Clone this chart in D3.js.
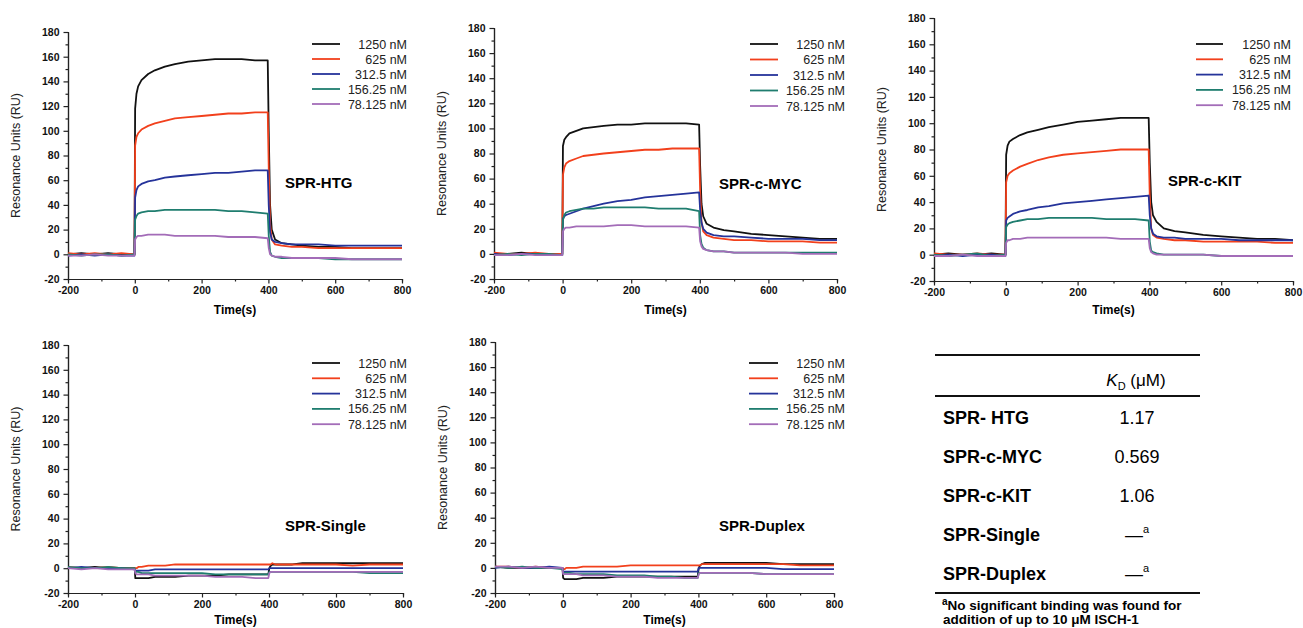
<!DOCTYPE html>
<html lang="en">
  <head>
    <meta charset="utf-8">
    <script src="https://d3js.org/d3.v7.min.js"></script>
    <title>SPR sensorgrams</title>
    <style>
      body {
        margin: 0;
        background-color: #ffffff;
        font-family: "Liberation Sans", Arial, sans-serif;
      }
      .axis path, .axis line {
        stroke: #222;
        stroke-width: 1.2;
      }
      .axis text {
        font-size: 10.5px;
        font-weight: bold;
        fill: #111;
        font-family: "Liberation Sans", Arial, sans-serif;
      }
      .curve {
        fill: none;
        stroke-width: 1.8;
        stroke-linejoin: round;
      }
    </style>
  </head>
  <body>
    <div class="chartHolder"></div>
    <script>
      // time points (s) shared by every sensorgram
      const times = [-200, -160, -120, -80, -40, -1,
        1, 5, 10, 20, 40, 60, 90, 120, 160, 200, 240, 280, 320, 360, 398,
        401, 405, 410, 420, 440, 470, 500, 550, 600, 650, 700, 750, 800];

      const concentrations = ['1250 nM', '625 nM', '312.5 nM', '156.25 nM', '78.125 nM'];
      const panelNames = ['SPR-HTG', 'SPR-c-MYC', 'SPR-c-KIT', 'SPR-Single', 'SPR-Duplex'];

      // response units, one row per concentration (same order as concentrations)
      const htgSeries = [
        [0, 1, 0, 1, 0, 0, 118, 130, 136, 141, 146, 149, 152, 154, 156, 157, 158, 158, 158, 157, 157, 100, 40, 20, 12, 9, 8, 7, 6, 6, 5, 5, 5, 5],
        [1, 0, 1, 0, 1, 0, 88, 95, 98, 101, 104, 106, 108, 110, 111, 112, 113, 114, 114, 115, 115, 70, 25, 12, 8, 7, 6, 6, 5, 5, 5, 5, 5, 5],
        [-1, 0, -1, 0, -1, -1, 46, 52, 55, 57, 59, 60, 62, 63, 64, 65, 66, 66, 67, 68, 68, 40, 18, 12, 10, 9, 8, 8, 8, 7, 7, 7, 7, 7],
        [0, -1, 0, 0, -1, 0, 28, 31, 33, 34, 35, 35, 36, 36, 36, 36, 36, 35, 35, 34, 33, 15, 2, -1, -2, -3, -3, -3, -3, -4, -4, -4, -4, -4],
        [-1, -1, 0, -1, -1, -1, 12, 14, 15, 15, 16, 16, 16, 15, 15, 15, 15, 14, 14, 14, 13, 5, 0, -1, -2, -2, -3, -3, -3, -3, -4, -4, -4, -4]
      ];
      const mycSeries = [
        [0, 0, 1, 0, 0, 0, 86, 91, 93, 96, 98, 100, 101, 102, 103, 103, 104, 104, 104, 104, 103, 70, 40, 30, 24, 21, 19, 18, 16, 15, 14, 13, 12, 12],
        [1, 0, 0, 1, 0, 0, 63, 69, 72, 74, 76, 78, 79, 80, 81, 82, 83, 83, 84, 84, 84, 50, 25, 18, 15, 13, 12, 11, 11, 10, 10, 10, 9, 9],
        [0, -1, 0, 0, -1, -1, 28, 30, 31, 32, 34, 36, 38, 40, 42, 43, 45, 46, 47, 48, 49, 35, 25, 20, 17, 15, 14, 14, 13, 12, 12, 12, 11, 11],
        [-1, 0, -1, 0, 0, -1, 27, 31, 33, 34, 35, 36, 36, 37, 37, 37, 37, 36, 36, 36, 34, 15, 8, 5, 3, 2, 2, 1, 1, 1, 1, 1, 1, 1],
        [-1, -1, 0, -1, -1, -1, 18, 20, 21, 21, 22, 22, 22, 22, 23, 23, 22, 22, 22, 22, 21, 10, 6, 4, 3, 2, 2, 1, 1, 1, 1, 0, 0, 0]
      ];
      const kitSeries = [
        [0, 1, 0, 0, 1, 0, 76, 83, 86, 88, 91, 93, 95, 97, 99, 101, 102, 103, 104, 104, 104, 70, 40, 30, 25, 20, 18, 17, 15, 14, 13, 12, 12, 11],
        [1, 0, 0, 1, 0, 0, 55, 60, 62, 64, 67, 69, 72, 74, 76, 77, 78, 79, 80, 80, 80, 45, 20, 15, 13, 12, 11, 11, 10, 10, 10, 10, 9, 9],
        [-1, 0, -1, 0, 0, -1, 26, 28, 29, 31, 33, 34, 36, 37, 39, 40, 41, 42, 43, 44, 45, 30, 20, 16, 14, 13, 13, 12, 12, 12, 11, 11, 11, 11],
        [0, -1, 0, 1, -1, 0, 21, 23, 24, 25, 26, 27, 27, 28, 28, 28, 28, 27, 27, 27, 26, 10, 3, 2, 1, 0, 0, 0, 0, -1, -1, -1, -1, -1],
        [-1, -1, 0, -1, -1, -1, 9, 11, 11, 12, 12, 13, 13, 13, 13, 13, 13, 13, 12, 12, 12, 5, 2, 1, 0, 0, 0, 0, 0, -1, -1, -1, -1, -1]
      ];
      const singleSeries = [
        [0, 0, 1, 0, 0, 0, -8, -8, -8, -8, -8, -7, -7, -7, -6, -6, -6, -5, -5, -5, -5, 0, 2, 3, 3, 3, 3, 4, 4, 4, 4, 4, 4, 4],
        [1, 0, 0, 1, 0, 0, 0, 0, 1, 1, 2, 2, 2, 3, 3, 3, 3, 3, 3, 3, 3, 3, 3, 4, 3, 3, 3, 3, 3, 3, 2, 3, 3, 3],
        [0, 1, 0, 0, 0, -1, -2, -2, -2, -2, -2, -1, -1, -1, -1, -1, -1, -1, -1, -1, -1, 0, 0, 0, 0, 0, 0, 0, 0, 0, 0, 0, 0, 0],
        [1, 0, 0, 1, 0, 0, -3, -3, -3, -4, -4, -4, -4, -4, -4, -4, -5, -5, -5, -5, -5, -3, -3, -3, -3, -3, -3, -3, -3, -3, -3, -4, -4, -4],
        [0, -1, 0, -1, -1, -1, -4, -5, -5, -5, -5, -6, -6, -6, -6, -6, -7, -7, -7, -8, -8, -4, -3, -3, -3, -3, -3, -3, -3, -3, -3, -3, -3, -3]
      ];
      const duplexSeries = [
        [1, 0, 0, 0, 0, 0, -8, -9, -9, -9, -9, -8, -8, -8, -7, -7, -7, -7, -7, -7, -7, 0, 2, 3, 4, 4, 4, 4, 4, 4, 3, 3, 3, 3],
        [1, 1, 0, 1, 0, 0, -1, -1, 0, 0, 0, 1, 1, 1, 1, 2, 2, 2, 2, 2, 2, 2, 2, 3, 3, 3, 3, 3, 3, 3, 3, 2, 2, 2],
        [0, 1, 0, 0, 1, 0, -3, -3, -3, -3, -3, -3, -3, -3, -3, -3, -3, -3, -3, -3, -3, 0, 0, 0, 0, 0, 0, 0, 0, 0, -1, -1, -1, -1],
        [1, 0, 1, 0, 0, -1, -4, -4, -4, -4, -5, -5, -5, -5, -6, -6, -6, -7, -7, -8, -8, -4, -4, -4, -4, -4, -4, -4, -4, -5, -5, -5, -5, -5],
        [1, 1, 0, 1, 0, 0, -5, -5, -5, -5, -5, -6, -6, -6, -7, -7, -7, -8, -8, -8, -8, -5, -4, -4, -4, -4, -4, -4, -4, -5, -5, -5, -5, -5]
      ];

      const xTicks = [-200, 0, 200, 400, 600, 800];
      const yTicks = [-20, 0, 20, 40, 60, 80, 100, 120, 140, 160, 180];

      const kdTargets = ['SPR- HTG', 'SPR-c-MYC', 'SPR-c-KIT', 'SPR-Single', 'SPR-Duplex'];
      const kdValues = ['1.17', '0.569', '1.06', '—', '—'];

      const colors = ['#111111', '#f2401c', '#25339a', '#1f7d6f', '#a36cb8'];

      // where each panel sits on the page
      const layout = [
        {x0: 68, x1: 402, yTop: 32, yBot: 279, labelX: 285, labelY: 182, legA: 312, legB: 340, legT: 407, legY: 44, legDy: 15, tOff: 35},
        {x0: 494, x1: 837, yTop: 28, yBot: 279, labelX: 719, labelY: 183, legA: 750, legB: 778, legT: 845, legY: 44, legDy: 15.5, tOff: 35},
        {x0: 934, x1: 1293, yTop: 18, yBot: 281, labelX: 1168, labelY: 180, legA: 1196, legB: 1223, legT: 1291, legY: 44, legDy: 15.3, tOff: 33},
        {x0: 68, x1: 403, yTop: 345, yBot: 593, labelX: 285, labelY: 525, legA: 312, legB: 340, legT: 407, legY: 363, legDy: 15.3, tOff: 31},
        {x0: 495, x1: 834, yTop: 342, yBot: 593, labelX: 719, labelY: 525, legA: 749, legB: 778, legT: 845, legY: 363, legDy: 15.3, tOff: 31}
      ];
      const allSeries = [htgSeries, mycSeries, kitSeries, singleSeries, duplexSeries];

      const svg = d3.select('.chartHolder')
        .append('svg')
        .attr('width', 1303)
        .attr('height', 628);

      const plain = (d) => String(d);

      layout.forEach((p, k) => {
        const xScale = d3.scaleLinear().domain([-200, 800]).range([p.x0, p.x1]);
        const yScale = d3.scaleLinear().domain([-20, 180]).range([p.yBot, p.yTop]);
        const g = svg.append('g');

        // minor ticks first, then the labelled axes
        g.append('g')
          .attr('class', 'axis')
          .attr('transform', 'translate(0,' + p.yBot + ')')
          .call(d3.axisBottom(xScale).tickValues(d3.range(-100, 800, 200)).tickSize(2.5).tickFormat(''));
        g.append('g')
          .attr('class', 'axis')
          .attr('transform', 'translate(' + p.x0 + ',0)')
          .call(d3.axisLeft(yScale).tickValues(d3.range(-10, 180, 20)).tickSize(2.5).tickFormat(''));
        g.append('g')
          .attr('class', 'axis')
          .attr('transform', 'translate(0,' + p.yBot + ')')
          .call(d3.axisBottom(xScale).tickValues(xTicks).tickSize(4.5).tickSizeOuter(0).tickPadding(3).tickFormat(plain));
        g.append('g')
          .attr('class', 'axis')
          .attr('transform', 'translate(' + p.x0 + ',0)')
          .call(d3.axisLeft(yScale).tickValues(yTicks).tickSize(4.5).tickSizeOuter(0).tickPadding(4).tickFormat(plain));

        const line = d3.line()
          .x((d, i) => xScale(times[i]))
          .y((d) => yScale(d));

        allSeries[k].forEach((s, j) => {
          g.append('path')
            .attr('class', 'curve')
            .attr('d', line(s))
            .attr('stroke', colors[j]);
        });

        // legend
        concentrations.forEach((c, j) => {
          const y = p.legY + j * p.legDy;
          g.append('line')
            .attr('x1', p.legA).attr('x2', p.legB)
            .attr('y1', y).attr('y2', y)
            .attr('stroke', colors[j])
            .attr('stroke-width', 1.8);
          g.append('text')
            .attr('x', p.legT).attr('y', y + 4.5)
            .attr('text-anchor', 'end')
            .style('font-size', '12.5px')
            .style('fill', '#222')
            .text(c);
        });

        g.append('text')
          .attr('x', p.labelX).attr('y', p.labelY + 5.5)
          .style('font-size', '15px')
          .style('font-weight', 'bold')
          .text(panelNames[k]);

        g.append('text')
          .attr('x', (p.x0 + p.x1) / 2).attr('y', p.yBot + p.tOff)
          .attr('text-anchor', 'middle')
          .style('font-size', '12px')
          .style('font-weight', 'bold')
          .text('Time(s)');

        g.append('text')
          .attr('transform', 'translate(' + (p.x0 - 48) + ',' + ((p.yTop + p.yBot) / 2) + ') rotate(-90)')
          .attr('text-anchor', 'middle')
          .style('font-size', '12.5px')
          .style('fill', '#222')
          .text('Resonance Units (RU)');
      });

      // KD table
      const tbl = svg.append('g');
      [355, 396, 593].forEach((y) => {
        tbl.append('line')
          .attr('x1', 935).attr('x2', 1200)
          .attr('y1', y).attr('y2', y)
          .attr('stroke', '#111')
          .attr('stroke-width', 2);
      });

      const head = tbl.append('text')
        .attr('x', 1136).attr('y', 386)
        .attr('text-anchor', 'middle')
        .style('font-size', '17px');
      head.append('tspan').style('font-style', 'italic').text('K');
      head.append('tspan').attr('dy', 4).style('font-size', '11px').text('D');
      head.append('tspan').attr('dy', -4).text(' (μM)');

      kdTargets.forEach((t, i) => {
        const y = 424 + i * 39;
        tbl.append('text')
          .attr('x', 943).attr('y', y)
          .style('font-size', '18px')
          .style('font-weight', 'bold')
          .text(t);
        const v = tbl.append('text')
          .attr('x', 1137).attr('y', y)
          .attr('text-anchor', 'middle')
          .style('font-size', '18px')
          .text(kdValues[i]);
        if (kdValues[i] === '—') {
          v.append('tspan').attr('dy', -8).style('font-size', '11px').text('a');
        }
      });

      const fn1 = tbl.append('text')
        .attr('x', 942).attr('y', 610)
        .style('font-size', '13.5px')
        .style('font-weight', 'bold');
      fn1.append('tspan').attr('dy', -5).style('font-size', '10px').text('a');
      fn1.append('tspan').attr('dy', 5).text('No significant binding was found for');
      tbl.append('text')
        .attr('x', 943).attr('y', 624)
        .style('font-size', '13.5px')
        .style('font-weight', 'bold')
        .text('addition of up to 10 μM ISCH-1');
    </script>
  </body>
</html>
